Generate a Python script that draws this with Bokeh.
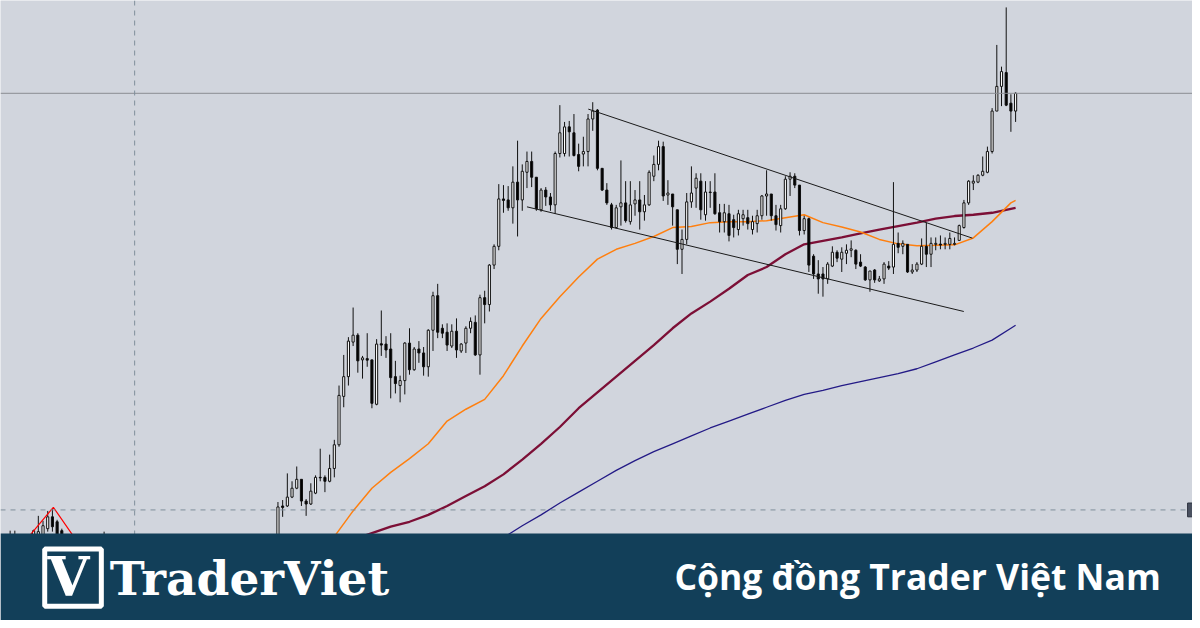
from bokeh.plotting import figure
from bokeh.models import Range1d, Span, BoxAnnotation, Label, ColumnDataSource
from bokeh.embed import file_html
from bokeh.resources import INLINE

# ---------------- data ----------------
# left (mostly hidden) candles
left_idx = [-57, -56, -52, -51, -50, -49, -48, -47, -46, -37]
left_open = [440, 445, 440, 445, 455, 465, 477, 472, 463, 440]
left_high = [463, 463, 464, 478, 473, 483, 485, 474, 465, 462]
left_low = [430, 425, 435, 440, 450, 462, 462, 450, 445, 430]
left_close = [445, 440, 463, 462, 468, 477, 467, 455, 450, 445]

main_open = [
    430, 488, 488, 497, 506, 515, 493, 490, 501, 517,
    517, 513, 526, 550, 599, 619, 654, 661, 636, 637.3,
    636, 591, 652.3, 652, 647, 619, 610, 615, 653, 626,
    647, 643, 629, 666, 701, 668, 664, 650, 665, 645,
    653, 668, 674, 641, 699, 692, 732, 751, 799, 798,
    790, 816, 798, 826, 837, 821, 788, 808, 801, 793,
    845, 845, 872, 866, 844, 844.5, 847, 880, 889, 830,
    808, 793, 770, 791, 795, 776, 794, 798, 786, 793,
    822, 834, 852, 803, 804, 788, 748, 758, 796, 810,
    817, 783, 806, 806, 785, 776, 784, 778, 768, 779,
    780, 768, 774, 782, 802, 804, 782, 772, 789, 819,
    822, 813, 767, 779, 741, 723, 723, 718, 731, 745,
    738, 744, 747, 747, 735, 730, 717, 727, 716, 718,
    731, 730, 754, 751, 753, 725, 727, 733, 751, 743,
    753, 753.3, 753, 753, 753, 757, 770, 795, 815, 816,
    823, 826, 847, 888, 913, 927, 896, 888]
main_high = [
    492, 494, 521, 513, 528, 515, 495, 511, 519, 546,
    519, 540, 555, 610, 641, 659, 689, 663, 640, 663,
    636, 657, 686, 660, 663, 635, 620, 654, 668, 649,
    655, 649, 667, 705, 713, 672, 673, 672, 678, 653,
    670, 679, 681, 702, 706, 733, 753, 814, 813, 812,
    832, 858, 834, 847, 847, 821, 810, 811, 805, 847,
    894, 877, 878, 885, 855, 862, 885, 897, 890, 830,
    815, 795, 793, 838, 817, 817, 808, 817, 803, 828,
    843, 858, 857, 818, 804, 788, 768, 805, 832, 825,
    825, 817, 817, 825, 794, 794, 793, 783, 788, 788,
    788, 782, 788, 803, 828, 804, 793, 793, 822, 826,
    825, 813, 782, 780, 743, 737, 730, 735, 751, 747,
    750, 753, 757, 748, 743, 731, 726, 728, 721, 735,
    736, 816, 765, 757, 753, 733, 735, 759, 775, 760,
    760, 762, 760, 765, 760, 773, 798, 818, 823, 824,
    842, 852, 891, 955, 933, 993, 905, 907]
main_low = [
    425, 477, 487, 496, 505, 488, 478, 489, 500, 513,
    502, 512, 517, 548, 588, 610, 650, 623, 617, 629,
    587, 590, 640, 638, 597, 602, 593, 601, 621, 625,
    633, 620, 619, 645, 658, 658, 645, 648, 638, 643,
    643, 663, 640, 621, 673, 685, 728, 747, 785, 787,
    774, 761, 787, 810, 811, 787, 786, 792, 787, 784,
    841, 842, 842, 842, 827, 832, 832, 868, 828, 807,
    793, 768, 769, 772, 775, 773, 782, 768, 777, 792,
    817, 828, 797, 793, 772, 733, 723, 753, 790, 790,
    778, 777, 790, 783, 765, 765, 756, 760, 762, 772,
    768, 763, 765, 778, 782, 777, 767, 765, 788, 802,
    810, 762, 763, 725, 718, 703, 700, 713, 730, 735,
    725, 733, 740, 728, 730, 716, 705, 714, 715, 713,
    727, 723, 744, 743, 724, 723, 725, 732, 730, 730,
    747, 748, 748, 748, 752, 757, 769, 793, 808, 815,
    822, 825, 845, 888, 893, 893, 867, 877]
main_close = [
    487, 486.5, 497, 506, 515, 493, 490, 503, 517, 516.5,
    513, 526, 550, 600, 619, 655, 661, 635, 638, 635.7,
    592, 652, 651, 646, 618, 612, 615, 653, 626, 647,
    643, 629, 666, 701, 664, 663, 651, 665, 646, 652,
    668, 675, 641, 699, 692, 732, 751, 799, 797.5, 790,
    816, 798, 827, 837, 821, 789, 808, 801, 793, 845,
    866, 872, 867, 843, 832, 847, 880, 888, 830, 808,
    795, 770, 790, 795, 777, 793, 798, 786, 793, 826,
    834, 852, 802, 805, 791, 748, 758, 796, 805, 820,
    788, 806, 805.5, 784, 776, 785, 762, 770, 784, 783,
    774, 776, 782, 802, 804, 782, 773, 789, 819, 822,
    813, 767, 779, 732, 723, 718, 718, 733, 745, 739,
    745, 747, 748.5, 733, 731, 717, 726, 717, 718, 733,
    729, 753, 750, 754, 725, 727, 733, 751, 743, 754,
    754, 752.3, 754, 759, 754, 772, 795, 817, 817, 823,
    827, 847, 888, 913, 928, 894, 888, 906]

# moving averages (read at sampled candles)
ma_orange_idx = [8, 12, 16, 20, 24, 28, 32, 36, 40, 44, 48, 52, 56, 60, 64, 68, 72, 76, 80, 84,
                 88, 92, 96, 100, 104, 108, 112, 116, 120, 124, 128, 132, 136, 140, 144, 148,
                 152, 156, 157]
ma_orange = [430, 457, 483, 506, 522, 536, 551, 574, 586, 596, 620, 650, 678, 700, 720, 738,
             748, 754, 761, 770, 771, 775, 776, 776, 777, 780, 783, 775, 770.5, 765.5, 758,
             753.5, 751.7, 752, 752.5, 759.5, 776, 795, 797.5]
ma_red_idx = [12, 16, 20, 24, 28, 32, 36, 40, 44, 48, 52, 56, 60, 64, 68, 72, 76, 80, 84, 88,
              92, 96, 100, 104, 108, 112, 116, 120, 124, 128, 132, 136, 140, 144, 148, 152, 157]
ma_red = [445, 454, 460.5, 467, 472, 479, 488, 498, 508, 520, 535, 551, 568, 587, 603, 619,
          635, 651, 668, 683, 695, 708, 722, 730, 743, 753, 756.5, 760, 764, 768, 771.5, 775,
          779, 781.7, 783, 785, 790]
ma_navy_idx = [44, 48, 52, 56, 60, 64, 68, 72, 76, 80, 84, 88, 92, 96, 100, 104, 108, 112, 116,
               120, 124, 128, 132, 136, 140, 144, 148, 152, 156, 157]
ma_navy = [435, 456, 468, 479, 491, 502, 513, 524, 534, 543, 551, 559, 567, 574, 581, 588,
           595, 601, 605, 610, 614, 618, 622, 627, 634, 641, 648, 656, 668, 671]

# drawn objects
upper_trend_idx = [66.05, 147.8]
upper_trend_val = [890, 759.3]
lower_trend_idx = [53.0, 145.98]
lower_trend_val = [791, 685]
red_zigzag_idx = [-56, -47.8, -41]
red_zigzag_val = [440, 486.7, 440]
level_solid = 906
level_dashed = 484
vline_idx = -30.5

# ---------------- figure ----------------
BG = "#d1d5dd"
BANNER = "#123f59"

p = figure(width=1192, height=620, x_range=Range1d(-59.05, 194.65),
           y_range=Range1d(372, 1000), output_backend="svg", toolbar_location=None,
           min_border=0, x_axis_type=None, y_axis_type=None)
p.grid.visible = False
p.outline_line_color = None
p.background_fill_color = BG
p.border_fill_color = BG

idx = left_idx + list(range(len(main_open)))
o = left_open + main_open
h = left_high + main_high
l = left_low + main_low
c = left_close + main_close
src = ColumnDataSource(dict(
    i=idx, high=h, low=l,
    top=[max(a, b) for a, b in zip(o, c)],
    bottom=[min(a, b) for a, b in zip(o, c)],
    fill=["white" if cc >= oo else "black" for oo, cc in zip(o, c)],
))

p.add_layout(Span(location=level_solid, dimension="width", line_color="#8a8d93", line_width=1))
p.add_layout(Span(location=level_dashed, dimension="width", line_color="#7f8e9b",
                  line_width=1, line_dash="5 5"))
p.add_layout(Span(location=vline_idx, dimension="height", line_color="#7f8e9b",
                  line_width=1, line_dash="5 5"))

p.line(ma_navy_idx, ma_navy, line_color="#231a86", line_width=1.3)
p.line(ma_red_idx, ma_red, line_color="#7c0f36", line_width=2.3)
p.line(ma_orange_idx, ma_orange, line_color="#ff7f0e", line_width=1.5)

p.segment(x0="i", y0="high", x1="i", y1="low", source=src, line_color="#111111", line_width=1)
p.vbar(x="i", width=0.45, top="top", bottom="bottom", fill_color="fill",
       line_color="#111111", line_width=1, source=src)

p.line(upper_trend_idx, upper_trend_val, line_color="#1a1a1a", line_width=1)
p.line(lower_trend_idx, lower_trend_val, line_color="#1a1a1a", line_width=1)
p.line(red_zigzag_idx, red_zigzag_val, line_color="#ff0000", line_width=1.2)

# right price tag
p.add_layout(BoxAnnotation(left=193.6, top=491, bottom=477, fill_color="#4a5160",
                           fill_alpha=1, line_color="#2e3440", line_alpha=1))

# banner
p.add_layout(BoxAnnotation(top=460, fill_color=BANNER, fill_alpha=1, line_color=None))
p.add_layout(BoxAnnotation(left=-49.64, right=-37.59, top=444.5, bottom=386.5,
                           fill_color=BANNER, fill_alpha=1, line_color="white",
                           line_alpha=1, line_width=5))
p.add_layout(Label(x=-44.6, y=416, text="V", text_color="white", text_font="DejaVu Serif",
                   text_font_style="bold", text_font_size="54px", text_align="center",
                   text_baseline="alphabetic"))
p.add_layout(Label(x=-35.79, y=415, text="TraderViet", text_color="white",
                   text_font="DejaVu Serif", text_font_style="bold", text_font_size="47px",
                   text_align="left", text_baseline="alphabetic"))
p.add_layout(Label(x=187.9, y=417, text="Cộng đồng Trader Việt Nam", text_color="white",
                   text_font="Open Sans", text_font_style="bold", text_font_size="35.5px",
                   text_align="right", text_baseline="alphabetic"))

open("out.html", "w").write(file_html(p, INLINE, "chart"))
